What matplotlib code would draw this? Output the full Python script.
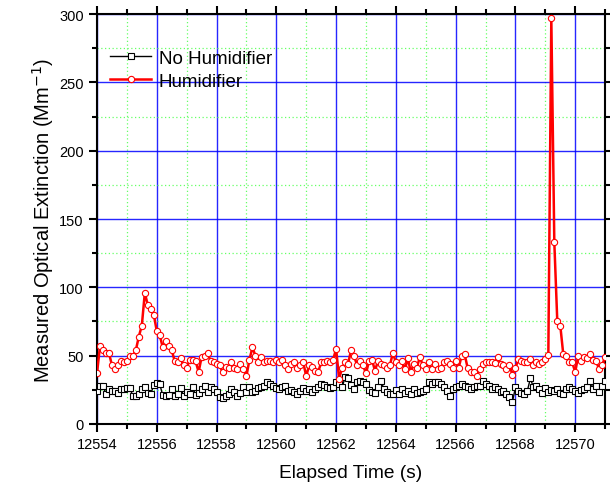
import numpy as np
import matplotlib
matplotlib.use('Agg')
import matplotlib.pyplot as plt
from matplotlib.ticker import MultipleLocator

plt.rcParams['font.family'] = ['Liberation Sans', 'DejaVu Sans']

# samples every 0.1 s starting at 12554 s
t0 = 12554.0
dt = 0.1

no_humidifier = [
    24, 27.5, 27.5, 22, 25.6, 24, 24, 23, 25.6, 25.6, 26, 26, 20.7, 20.7, 22, 25.6,
    27, 23, 22, 28.5, 30, 29, 21, 20.7, 21, 25.6, 20.7, 22, 26, 20.7, 23.7, 22, 27,
    21.2, 22.7, 25.6, 28, 23.2, 26.8, 25.6, 23.2, 19.5, 18.8, 20.2, 22, 25.6, 23.2,
    20.7, 22.7, 26.8, 23.7, 26.8, 23.2, 24.4, 26.1, 26.8, 28, 30.5, 29, 28, 26, 25.6,
    26.8, 28, 24.4, 25.1, 23.7,
    22, 24.4, 26, 24.4, 25.6, 23.7, 25.6, 26.8, 29.3, 28.5, 26.8, 26, 26.8, 30.5,
    29.3, 26.8, 34, 33.4, 28.5, 25.6, 30.5, 31.7, 30.5, 29.3, 25.1, 23.7, 22.7, 26.8,
    31.7, 25.6, 23.2, 22, 22, 25.1,
    22, 25.6, 22.7, 24.4, 22, 25.6, 22.7, 23.2, 24.4, 25.6, 30.5, 29.3, 31, 30.5,
    29.3, 26.8, 24.4, 20.2, 25.6, 26.8, 28, 29.3, 28, 26.8, 25.6, 26.8, 28, 28, 31.7,
    29.3, 28, 25.6, 26.8,
    25.6, 23.7, 24.4, 22, 19.5, 16.3, 26.8, 24.4, 22.7, 22, 24.4, 33.4, 26.8, 28,
    25.6, 22.7, 26, 23.2, 25.1, 24.4, 25.6, 22.7, 22, 25.6, 26.8, 25.6, 24.4, 22.7,
    25.1, 25.6, 26.8, 31.7, 25.6, 28, 23.7, 28, 31.7,
]

humidifier = [
    37, 57, 54, 52, 52, 43, 40, 43, 46, 45, 46, 50, 50, 54, 64, 72, 96, 87, 84, 80,
    68, 65, 56, 61, 57, 54, 46, 45, 48, 43, 41, 47, 47,
    46, 38, 49, 50, 52, 46, 45, 44, 43, 38, 42, 41, 45, 41, 40, 44, 40, 35, 47, 56,
    50, 45, 49, 45, 46, 46, 45, 47, 45, 47, 43, 40, 44,
    45, 41, 43, 45, 35, 43, 42, 39, 38, 45, 45, 46, 45, 47, 55,
    33, 41, 45, 44, 54, 50, 43, 46, 43, 37, 46, 47, 39, 46, 44, 43, 41, 43, 52, 45,
    43, 46, 40, 48, 38, 44, 41, 49, 43, 40, 45, 40, 44, 40, 41, 45, 46, 44, 41, 46,
    41, 50, 51, 41, 38, 38, 35, 40, 44, 45, 45,
    45, 44.6, 49, 44, 43, 40, 43, 36, 41, 47.6, 46, 45.6, 45.6, 47.6, 43, 45, 44,
    45.6, 47.6, 50.5,
    297,
    133, 75, 72, 51, 50, 45, 45, 38, 50, 46, 49, 48, 51, 47, 46, 40, 43, 49,
]


def main():
    t_no = t0 + dt * np.arange(len(no_humidifier))
    t_hu = t0 + dt * np.arange(len(humidifier))

    fig = plt.figure(figsize=(6.10, 4.89), dpi=100)
    ax = fig.add_axes([0.159, 0.131, 0.833, 0.838])

    ax.plot(t_no, no_humidifier, color='black', lw=1.0, marker='s', markersize=4,
            markerfacecolor='white', markeredgecolor='black', markeredgewidth=0.8,
            label='No Humidifier', zorder=3)
    ax.plot(t_hu, humidifier, color='red', lw=1.8, marker='o', markersize=4.5,
            markerfacecolor='white', markeredgecolor='red', markeredgewidth=0.8,
            label='Humidifier', zorder=4)

    ax.set_xlim(12554, 12571)
    ax.set_ylim(0, 300)
    ax.xaxis.set_major_locator(MultipleLocator(2))
    ax.xaxis.set_minor_locator(MultipleLocator(1))
    ax.yaxis.set_major_locator(MultipleLocator(50))
    ax.yaxis.set_minor_locator(MultipleLocator(25))
    ax.ticklabel_format(useOffset=False, style='plain', axis='x')

    ax.grid(True, which='major', color='#0000ff', lw=1.0, alpha=0.85)
    ax.grid(True, which='minor', color='#66ff66', lw=0.9, ls=(0, (1, 2)))
    ax.set_axisbelow(True)

    for sp in ax.spines.values():
        sp.set_linewidth(1.5)
    ax.tick_params(which='both', direction='out', top=True, right=True,
                   labeltop=False, labelright=False, width=1.5)
    ax.tick_params(which='major', length=6, labelsize=10.5)
    ax.tick_params(which='minor', length=3.5)

    ax.set_xlabel('Elapsed Time (s)', fontsize=13.8, labelpad=9)
    ax.set_ylabel('Measured Optical Extinction (Mm$^{-1}$)', fontsize=14.5, labelpad=2)

    ax.legend(loc='upper left', bbox_to_anchor=(0.0, 0.945), frameon=False,
              fontsize=13.5, handlelength=2.2, labelspacing=0.3, handletextpad=0.4,
              borderaxespad=0.3)

    fig.savefig('out.png', dpi=100)


if __name__ == '__main__':
    main()
